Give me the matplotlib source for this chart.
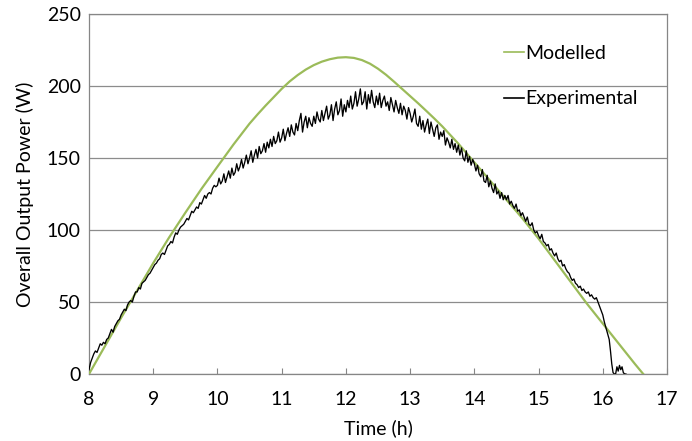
import numpy as np
import matplotlib
matplotlib.use("Agg")
import matplotlib.pyplot as plt

plt.rcParams['font.family'] = ['Lato', 'DejaVu Sans']

# ---------------- data ----------------
model_time = [8.0, 8.25, 8.5, 8.75, 9.0, 9.25, 9.5, 9.75, 10.0, 10.25, 10.5, 10.625,
              10.75, 10.875, 11.0, 11.125, 11.25, 11.375, 11.5, 11.625, 11.75, 11.875,
              12.0, 12.125, 12.25, 12.375, 12.5, 12.625, 12.75, 12.875, 13.0, 13.125,
              13.25, 13.375, 13.5, 13.75, 14.0, 14.25, 14.5, 14.75, 15.0, 15.25, 15.5,
              15.75, 16.0, 16.25, 16.5, 16.63]
model_power = [0, 19.5, 39, 58, 77, 95, 112, 128.5, 144, 159.4, 173.9, 180.3,
               186.4, 192.2, 198, 203.2, 207.6, 211.4, 214.5, 216.9, 218.6, 219.7,
               220, 219.5, 218, 215.5, 212, 207.8, 203, 198, 193, 188,
               182.8, 177.5, 172, 160, 147, 134, 121, 108, 94, 79, 64,
               49, 35, 21, 7, 0]

exp_start = 8.0
exp_step = 0.025
exp_power = [
    3, 8, 11, 14, 16, 15, 18, 21, 20, 22, 21, 24, 25, 28, 31, 29, 33, 35, 37, 38,
    41, 43, 45, 44, 48, 50, 51, 50, 54, 57, 57, 60, 59, 63, 64, 65, 67, 69, 70, 72,
    74, 76, 77, 79, 80, 83, 84, 83, 86, 89, 90, 92, 91, 95, 98, 97, 100, 102, 103, 104,
    106, 108, 107, 110, 113, 112, 114, 116, 115, 119, 118, 121, 124, 122, 125, 126, 125, 129, 131, 130,
    131, 136, 132, 134, 139, 133, 137, 141, 136, 143, 138, 140, 146, 141, 144, 149, 143, 147, 152, 146,
    150, 155, 147, 152, 156, 150, 158, 153, 155, 160, 154, 161, 157, 163, 158, 165, 160, 162, 168, 161,
    164, 170, 162, 167, 171, 165, 173, 168, 166, 174, 169, 176, 181, 168, 175, 179, 171, 178, 174, 172,
    179, 174, 182, 177, 175, 183, 176, 181, 186, 177, 180, 187, 176, 184, 189, 180, 183, 191, 179, 187,
    182, 190, 185, 193, 184, 188, 196, 186, 191, 198, 187, 189, 196, 184, 194, 188, 197, 189, 185, 193,
    187, 195, 185, 190, 193, 186, 189, 183, 192, 187, 182, 190, 185, 181, 188, 180, 186, 183, 177, 185,
    181, 175, 179, 184, 174, 172, 179, 170, 176, 168, 173, 177, 167, 175, 170, 165, 171, 173, 163, 168,
    165, 169, 159, 164, 161, 157, 163, 156, 160, 154, 159, 152, 157, 150, 148, 155, 147, 151, 145, 149,
    146, 141, 145, 139, 137, 142, 134, 133, 138, 130, 134, 129, 126, 132, 125, 127, 122, 126, 121, 124,
    121, 124, 118, 120, 117, 115, 118, 113, 114, 110, 112, 109, 106, 109, 104, 103, 105, 100, 98, 99,
    96, 94, 97, 92, 91, 89, 90, 86, 87, 84, 82, 84, 80, 78, 79, 75, 76, 73, 71, 70,
    67, 65, 66, 63, 62, 60, 61, 58, 59, 57, 56, 57, 54, 55, 53, 52, 53, 50, 47, 44,
    41, 36, 32, 28, 24,
]
exp_tail_time = [16.12, 16.14, 16.16, 16.18, 16.2, 16.22, 16.24, 16.26, 16.28, 16.3, 16.32, 16.34, 16.36]
exp_tail_power = [16, 7, 1, 0, 0, 5, 2, 6, 3, 5, 1, 0, 0]

x_ticks = [8, 9, 10, 11, 12, 13, 14, 15, 16, 17]
y_ticks = [0, 50, 100, 150, 200, 250]

# ---------------- plot ----------------
exp_time = exp_start + exp_step * np.arange(len(exp_power))
exp_t = np.concatenate([exp_time, exp_tail_time])
exp_p = np.concatenate([exp_power, exp_tail_power])

FS = 14

fig = plt.figure(figsize=(6.92, 4.41), dpi=100)
ax = fig.add_axes([89/692, 1-374/441, (667-89)/692, (374-14)/441])

ax.plot(model_time, model_power, color='#9BBB59', lw=1.6, label='Modelled', zorder=3)
ax.plot(exp_t, exp_p, color='black', lw=0.95, label='Experimental', zorder=4)

ax.set_xlim(8, 17)
ax.set_ylim(0, 250)
ax.set_xticks(x_ticks)
ax.set_yticks(y_ticks)
ax.yaxis.grid(True, color='#8C8C8C', lw=0.9)
ax.set_axisbelow(True)
for s in ax.spines.values():
    s.set_color('#868686')
    s.set_linewidth(0.9)
ax.tick_params(axis='x', direction='in', length=4, color='#868686', pad=12, labelsize=FS)
ax.tick_params(axis='y', length=0, pad=6, labelsize=FS)

ax.set_xlabel('Time (h)', fontsize=FS, labelpad=8)
ax.set_ylabel('Overall Output Power (W)', fontsize=FS, labelpad=9)

leg = ax.legend(loc='upper left', bbox_to_anchor=(0.705, 0.935), frameon=False,
                fontsize=FS, handlelength=1.0, handletextpad=0.1, labelspacing=1.45,
                borderaxespad=0)
for h in leg.get_lines():
    h.set_linewidth(1.2)

fig.savefig('out.png', dpi=100)
